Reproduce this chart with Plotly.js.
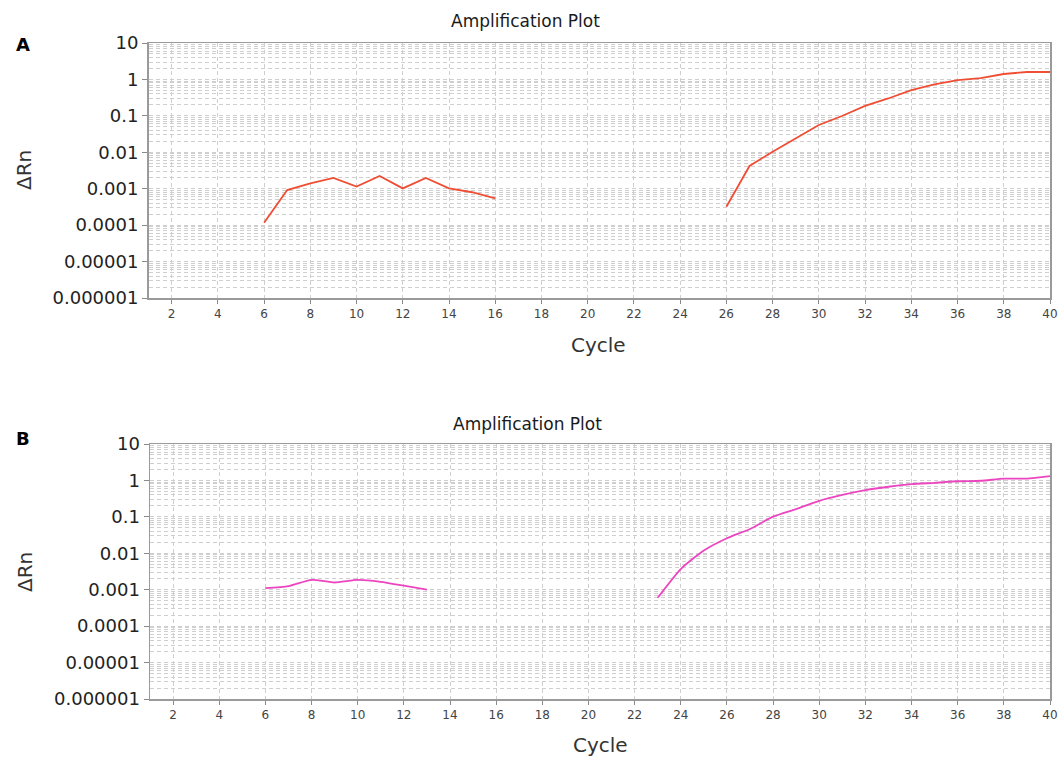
<!DOCTYPE html>
<html>
<head>
<meta charset="utf-8">
<script src="https://cdn.plot.ly/plotly-3.0.1.min.js"></script>
<style>
  html, body { margin: 0; padding: 0; background: #fff; }
  #chart { width: 1062px; height: 758px; }
</style>
</head>
<body>
<div id="chart"></div>
<script>
// ---- Data ----
const cyclesA1 = [6, 7, 8, 9, 10, 11, 12, 13, 14, 15, 16];
const deltaRnA1 = [0.000117, 0.00092, 0.00141, 0.00197, 0.00114, 0.00223, 0.00102, 0.00197, 0.00102, 0.0008, 0.00054];
const cyclesA2 = [26, 27, 28, 29, 30, 31, 32, 33, 34, 35, 36, 37, 38, 39, 40];
const deltaRnA2 = [0.00032, 0.0042, 0.0104, 0.024, 0.056, 0.099, 0.187, 0.30, 0.51, 0.73, 0.96, 1.09, 1.41, 1.6, 1.6];

const cyclesB1 = [6, 7, 8, 9, 10, 11, 12, 13];
const deltaRnB1 = [0.0011, 0.00125, 0.00187, 0.00158, 0.00187, 0.00165, 0.00129, 0.001];
const cyclesB2 = [23, 24, 25, 26, 27, 28, 29, 30, 31, 32, 33, 34, 35, 36, 37, 38, 39, 40];
const deltaRnB2 = [0.0006, 0.0037, 0.0119, 0.0258, 0.0464, 0.101, 0.164, 0.276, 0.40, 0.54, 0.67, 0.79, 0.86, 0.95, 0.98, 1.12, 1.12, 1.31];

const xTickVals = [2, 4, 6, 8, 10, 12, 14, 16, 18, 20, 22, 24, 26, 28, 30, 32, 34, 36, 38, 40];
const yTickVals = [0.000001, 0.00001, 0.0001, 0.001, 0.01, 0.1, 1, 10];
const yTickText = ['0.000001', '0.00001', '0.0001', '0.001', '0.01', '0.1', '1', '10'];

const panelTitle = 'Amplification Plot';
const xTitle = 'Cycle';
const yTitle = 'ΔRn';
const panelLabels = ['A', 'B'];

// ---- Styling ----
const W = 1062, H = 758;
const FONT = 'DejaVu Sans, Liberation Sans, Arial, sans-serif';
const colorA = '#f04e34';
const colorB = '#ec45c0';
const gridColor = '#cfcfcf';

function px(x) { return x / W; }
function py(y) { return 1 - y / H; }

function xaxisDef(left, anchor) {
  return {
    domain: [px(left), px(1050)],
    range: [1, 40],
    anchor: anchor,
    tickvals: xTickVals,
    ticks: 'outside', ticklen: 4, tickcolor: '#8a8a8a', tickwidth: 1,
    tickfont: { family: FONT, size: 12, color: '#444' },
    showgrid: true, gridcolor: gridColor, griddash: '4px,3px', gridwidth: 1,
    showline: true, linecolor: '#9a9a9a', linewidth: 1.5, mirror: true,
    zeroline: false, fixedrange: true
  };
}
function yaxisDef(top, bottom, anchor) {
  return {
    domain: [py(bottom), py(top)],
    type: 'log',
    range: [-6, 1],
    anchor: anchor,
    tickvals: yTickVals, ticktext: yTickText,
    ticks: 'outside', ticklen: 5, tickcolor: '#8a8a8a', tickwidth: 1,
    tickfont: { family: FONT, size: 18, color: '#222' },
    showgrid: true, gridcolor: gridColor, griddash: '4px,3px', gridwidth: 1,
    minor: { dtick: 'D1', showgrid: true, gridcolor: gridColor, griddash: '4px,3px', gridwidth: 1, ticks: '' },
    showline: true, linecolor: '#9a9a9a', linewidth: 1.5, mirror: true,
    zeroline: false, fixedrange: true
  };
}

const traces = [
  { x: cyclesA1, y: deltaRnA1, xaxis: 'x', yaxis: 'y', mode: 'lines', line: { color: colorA, width: 1.8 }, hoverinfo: 'skip' },
  { x: cyclesA2, y: deltaRnA2, xaxis: 'x', yaxis: 'y', mode: 'lines', line: { color: colorA, width: 1.8 }, hoverinfo: 'skip' },
  { x: cyclesB1, y: deltaRnB1, xaxis: 'x2', yaxis: 'y2', mode: 'lines', line: { color: colorB, width: 1.8, shape: 'spline', smoothing: 0.6 }, hoverinfo: 'skip' },
  { x: cyclesB2, y: deltaRnB2, xaxis: 'x2', yaxis: 'y2', mode: 'lines', line: { color: colorB, width: 1.8, shape: 'spline', smoothing: 0.6 }, hoverinfo: 'skip' }
];

function ann(text, x, y, opts) {
  return Object.assign({
    text: text, xref: 'paper', yref: 'paper', x: px(x), y: py(y),
    xanchor: 'center', yanchor: 'middle', showarrow: false,
    font: { family: FONT, size: 17, color: '#222' }
  }, opts || {});
}

const annotations = [
  ann(panelTitle, 525, 21, { font: { family: FONT, size: 17, color: '#1a1a1a' } }),
  ann(panelTitle, 527, 424, { font: { family: FONT, size: 17, color: '#1a1a1a' } }),
  ann(xTitle, 598, 345, { font: { family: FONT, size: 20, color: '#333' } }),
  ann(xTitle, 600, 745, { font: { family: FONT, size: 20, color: '#333' } }),
  ann(yTitle, 24, 170, { textangle: -90, font: { family: FONT, size: 20, color: '#333' } }),
  ann(yTitle, 25, 572, { textangle: -90, font: { family: FONT, size: 20, color: '#333' } }),
  ann(panelLabels[0], 23, 44, { font: { family: 'DejaVu Sans, Liberation Sans, sans-serif', size: 18, color: '#000', weight: 'bold' } }),
  ann(panelLabels[1], 23, 438, { font: { family: 'DejaVu Sans, Liberation Sans, sans-serif', size: 18, color: '#000', weight: 'bold' } })
];

const layout = {
  width: W, height: H,
  margin: { l: 0, r: 0, t: 0, b: 0 },
  paper_bgcolor: '#fff', plot_bgcolor: '#fff',
  showlegend: false,
  xaxis: xaxisDef(148.5, 'y'),
  yaxis: yaxisDef(43, 298, 'x'),
  xaxis2: xaxisDef(150, 'y2'),
  yaxis2: yaxisDef(444, 699, 'x2'),
  annotations: annotations
};

Plotly.newPlot('chart', traces, layout, { staticPlot: true, displayModeBar: false });
</script>
</body>
</html>
